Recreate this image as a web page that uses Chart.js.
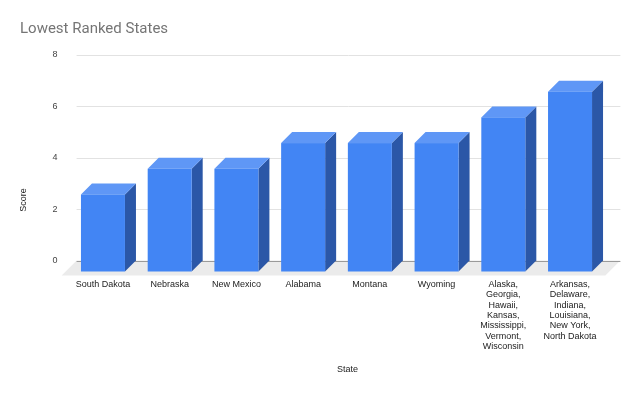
<!DOCTYPE html>
<html>
<head>
<meta charset="utf-8">
<script src="https://cdn.jsdelivr.net/npm/chart.js@4"></script>
<style>
  html, body { margin: 0; padding: 0; background: #fff; }
  #wrap { width: 640px; height: 395px; }
</style>
</head>
<body>
<div id="wrap"><canvas id="chart" width="640" height="395"></canvas></div>
<script>
// data
const states = [
    ['South Dakota'],
    ['Nebraska'],
    ['New Mexico'],
    ['Alabama'],
    ['Montana'],
    ['Wyoming'],
    ['Alaska,', 'Georgia,', 'Hawaii,', 'Kansas,', 'Mississippi,', 'Vermont,', 'Wisconsin'],
    ['Arkansas,', 'Delaware,', 'Indiana,', 'Louisiana,', 'New York,', 'North Dakota']
];
const scores = [3, 4, 4, 5, 5, 5, 6, 7];
const scoreMin = 0;
const scoreMax = 8;
const scoreStep = 2;

const depth = 11;       // bar depth offset
const floorDepth = 15;  // floor depth offset
const faceFront = '#4285F4';
const faceSide = '#2B57A7';
const faceTop = '#5F97F6';

const bars3d = {
    id: 'bars3d',
    beforeDatasetsDraw(chart) {
        const { ctx, chartArea: a, scales: { y } } = chart;
        const base = y.getPixelForValue(0);
        const left = a.left - 4;
        const right = a.right + 6;

        ctx.save();
        // floor
        ctx.fillStyle = '#EBEBEB';
        ctx.beginPath();
        ctx.moveTo(left, base);
        ctx.lineTo(right, base);
        ctx.lineTo(right - floorDepth, base + floorDepth);
        ctx.lineTo(left - floorDepth, base + floorDepth);
        ctx.closePath();
        ctx.fill();

        // grid lines on the back wall
        y.ticks.forEach(t => {
            const py = Math.round(y.getPixelForValue(t.value)) + 0.5;
            ctx.strokeStyle = t.value === 0 ? '#9A9A9A' : '#E2E2E2';
            ctx.lineWidth = 1;
            ctx.beginPath();
            ctx.moveTo(left, py);
            ctx.lineTo(right, py);
            ctx.stroke();
        });
        ctx.restore();
    },
    afterDatasetsDraw(chart) {
        const { ctx } = chart;
        const meta = chart.getDatasetMeta(0);
        ctx.save();
        meta.data.forEach(bar => {
            const p = bar.getProps(['x', 'y', 'base', 'width'], true);
            const x0 = p.x - p.width / 2 - depth;
            const x1 = p.x + p.width / 2 - depth;
            const top = p.y + depth;
            const bottom = p.base + depth;

            // side face
            ctx.fillStyle = faceSide;
            ctx.beginPath();
            ctx.moveTo(x1, top);
            ctx.lineTo(x1 + depth, top - depth);
            ctx.lineTo(x1 + depth, bottom - depth);
            ctx.lineTo(x1, bottom);
            ctx.closePath();
            ctx.fill();

            // top face
            ctx.fillStyle = faceTop;
            ctx.beginPath();
            ctx.moveTo(x0, top);
            ctx.lineTo(x0 + depth, top - depth);
            ctx.lineTo(x1 + depth, top - depth);
            ctx.lineTo(x1, top);
            ctx.closePath();
            ctx.fill();

            // front face
            ctx.fillStyle = faceFront;
            ctx.fillRect(x0, top, x1 - x0, bottom - top);
        });
        ctx.restore();
    },
    afterDraw(chart) {
        // y axis title, placed like the reference
        const { ctx } = chart;
        ctx.save();
        ctx.translate(24, 200);
        ctx.rotate(-Math.PI / 2);
        ctx.font = '9px "Liberation Sans", Arial, sans-serif';
        ctx.fillStyle = '#222';
        ctx.textAlign = 'center';
        ctx.textBaseline = 'middle';
        ctx.fillText('Score', 0, 0);
        ctx.restore();
    }
};

const ctx = document.getElementById('chart').getContext('2d');
new Chart(ctx, {
    type: 'bar',
    data: {
        labels: states,
        datasets: [{
            label: 'Score',
            data: scores,
            backgroundColor: 'rgba(0,0,0,0)',
            borderWidth: 0,
            barThickness: 44
        }]
    },
    options: {
        responsive: false,
        animation: false,
        devicePixelRatio: 1,
        layout: {
            padding: { left: 20, right: 25.6, top: 0, bottom: 0 }
        },
        plugins: {
            legend: { display: false },
            tooltip: { enabled: false },
            title: {
                display: true,
                text: 'Lowest Ranked States',
                align: 'start',
                color: '#757575',
                font: { family: 'Roboto, "Liberation Sans", Arial, sans-serif', size: 15, weight: 'normal', lineHeight: 1.2 },
                padding: { top: 20, bottom: 17 }
            }
        },
        scales: {
            x: {
                grid: { display: false, drawTicks: false },
                border: { display: false },
                ticks: {
                    color: '#222',
                    font: { family: '"Liberation Sans", Arial, sans-serif', size: 9, lineHeight: '10.3px' },
                    padding: 19,
                    labelOffset: -depth,
                    maxRotation: 0,
                    autoSkip: false
                },
                title: {
                    display: true,
                    text: 'State',
                    color: '#222',
                    font: { family: '"Liberation Sans", Arial, sans-serif', size: 9 },
                    padding: { top: 0, bottom: 19.6 }
                },
                afterFit(scale) {
                    scale.height = 134.5;
                }
            },
            y: {
                min: scoreMin,
                max: scoreMax,
                grid: { display: false, drawTicks: false },
                border: { display: false },
                ticks: {
                    stepSize: scoreStep,
                    color: '#444',
                    font: { family: '"Liberation Sans", Arial, sans-serif', size: 9 },
                    padding: 23
                },
                afterFit(scale) {
                    scale.width = 60.6;
                }
            }
        }
    },
    plugins: [bars3d]
});
</script>
</body>
</html>
